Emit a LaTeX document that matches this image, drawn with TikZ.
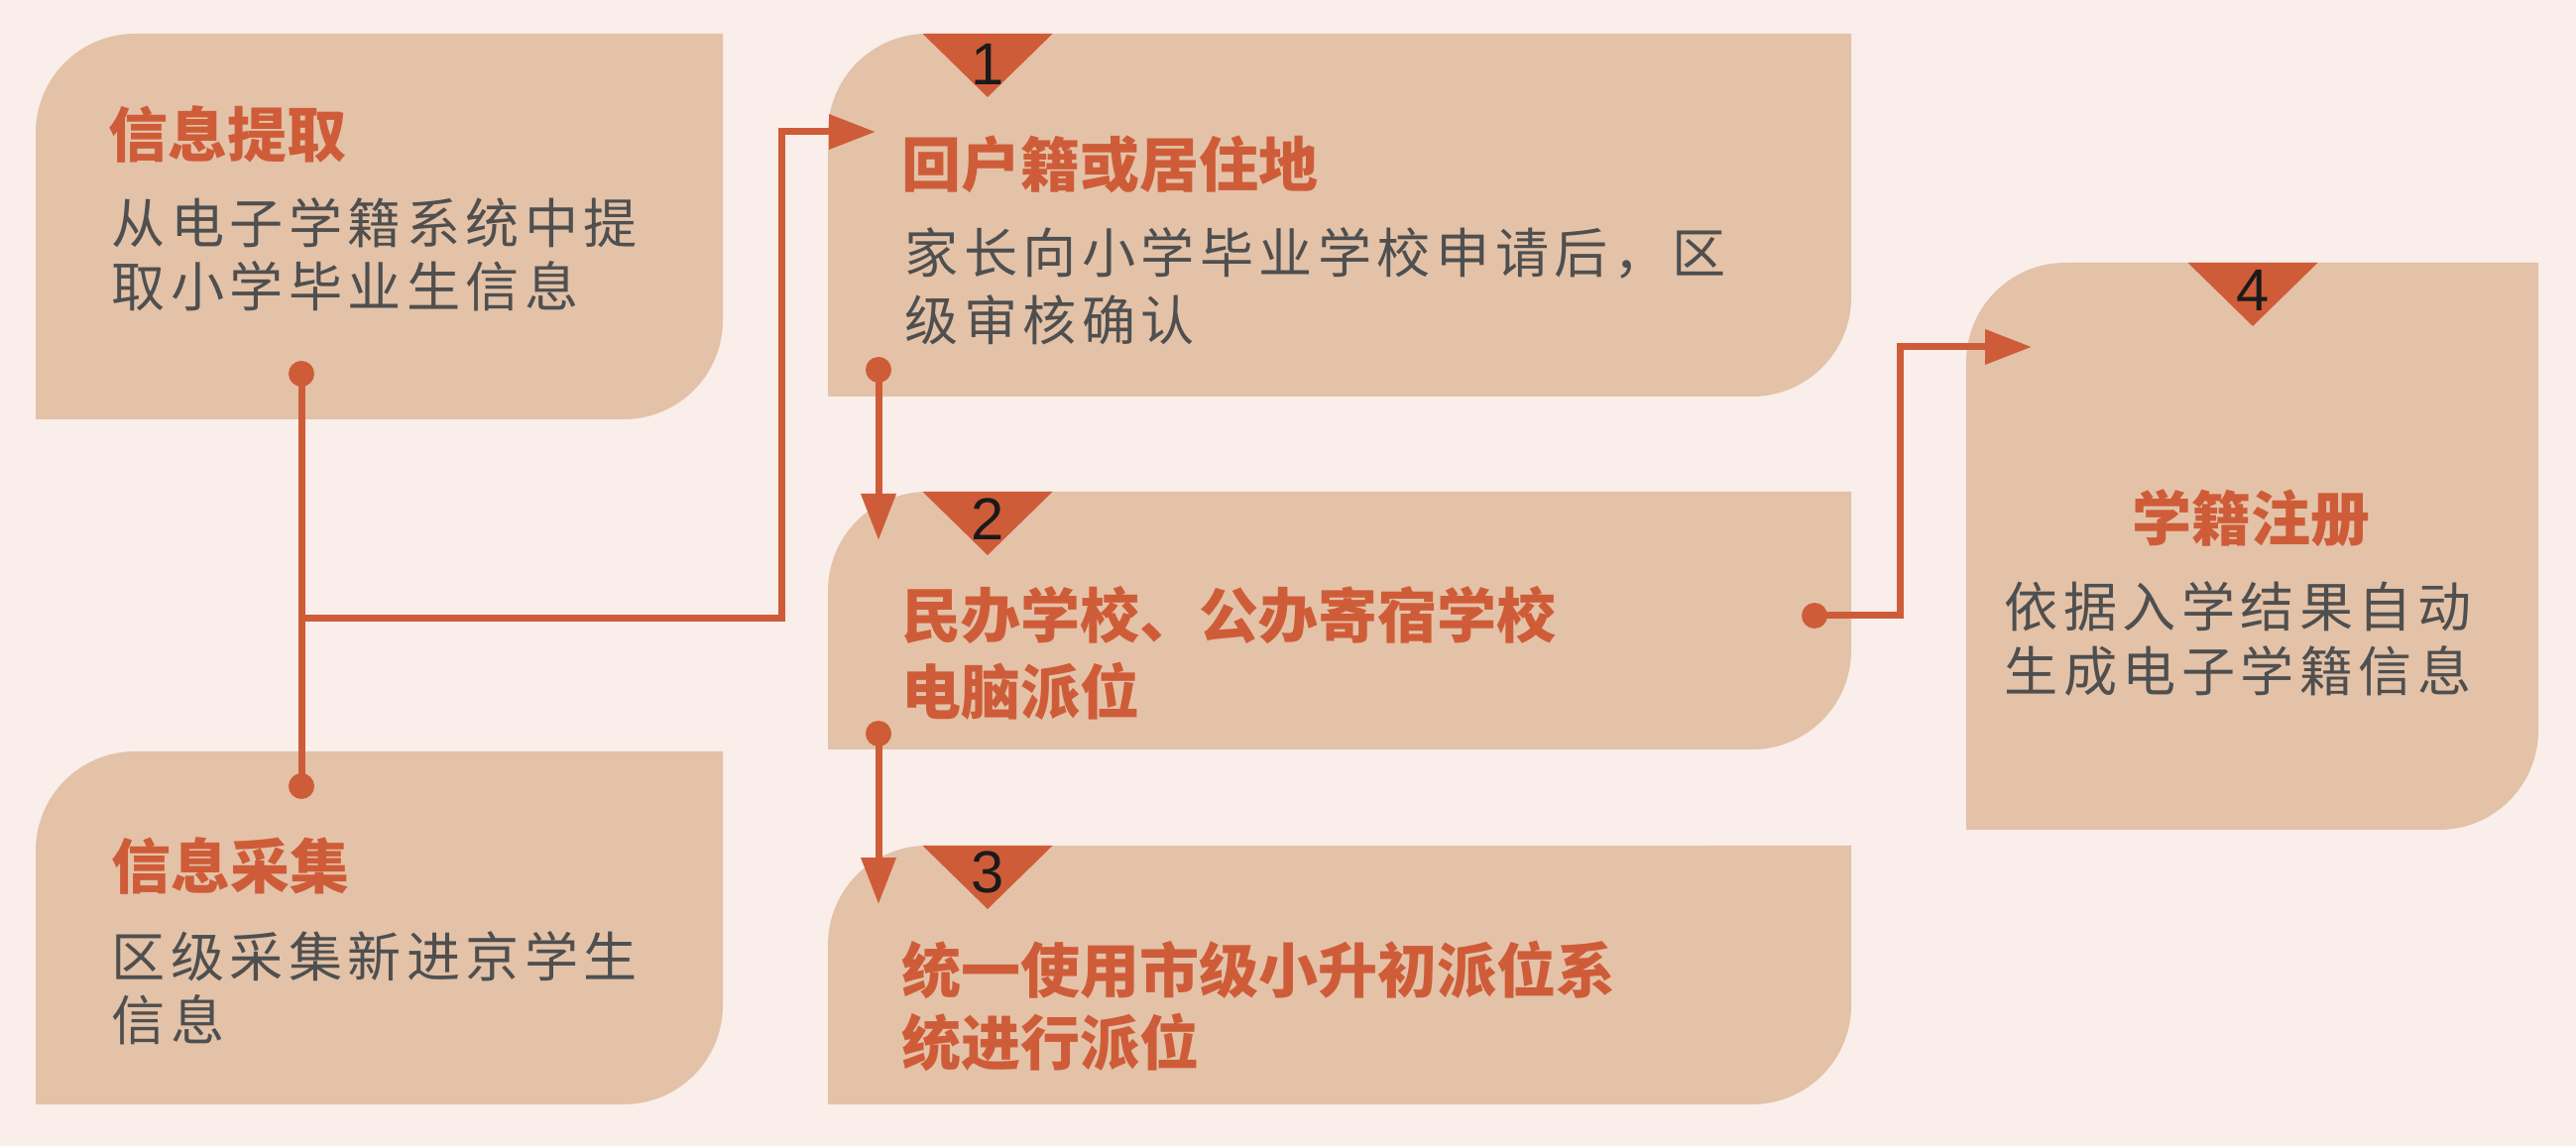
\documentclass[tikz,border=0pt]{standalone}
\usepackage{fontspec}
\setmainfont{Liberation Sans}
\newfontfamily\cjk{Noto Sans CJK SC}
\newfontfamily\cjkbody[LetterSpace=10]{Noto Sans CJK SC}
\usetikzlibrary{arrows.meta}
\definecolor{bgc}{HTML}{F9EEEA}
\definecolor{cardc}{HTML}{E3C2A8}
\definecolor{accent}{HTML}{CF5C38}
\definecolor{bodyc}{HTML}{4F4F4F}
\definecolor{numc}{HTML}{1A1A1A}
% L B R T
\newcommand\cardshape[4]{%
  \fill[cardfill] (#1,#2) -- (#1,#4-100) arc[start angle=180,end angle=90,radius=10mm]
    -- (#3,#4) -- (#3,#2+100) arc[start angle=0,end angle=-90,radius=10mm] -- cycle;}
% cx top
\newcommand\stepmark[2]{%
  \fill[tri] (#1-65.5,#2) -- (#1+65.5,#2) -- (#1,#2-64) -- cycle;}
\begin{document}
\begin{tikzpicture}[x=0.1mm,y=0.1mm,
  cardfill/.style={fill=cardc},
  tri/.style={fill=accent},
  conn/.style={draw=accent,line width=0.7mm},
  arr/.style={conn,-{Triangle[length=4.7mm,width=3.4mm]}},
  dot/.style={circle,fill=accent,inner sep=0,minimum size=2.6mm},
  ttl/.style={anchor=west,inner sep=0,text=accent,font=\cjk\bfseries\fontsize{17.07pt}{20pt}\selectfont},
  body/.style={anchor=west,inner sep=0,text=bodyc,font=\cjkbody\fontsize{15.4pt}{19pt}\selectfont},
  num/.style={inner sep=0,text=numc,font=\fontsize{17pt}{20pt}\selectfont}]

\fill[bgc] (0,0) rectangle (2598,1156);
\useasboundingbox (0,0) rectangle (2598,1156);

% cards
\cardshape{36}{733}{729}{1122}
\cardshape{36}{42}{729}{398}
\cardshape{835}{756}{1867}{1122}
\cardshape{835}{400}{1867}{660}
\cardshape{835}{42}{1867}{303}
\cardshape{1983}{319}{2560}{891}

% step markers
\stepmark{996}{1122}
\stepmark{996}{660}
\stepmark{996}{303}
\stepmark{2272}{891}
\node[num] (n1) at (996,1091) {1};
\node[num] (n2) at (996,632) {2};
\node[num] (n3) at (996,276) {3};
\node[num] (n4) at (2272,863) {4};

% texts
\node[ttl] (tA) at (109,1021) {信息提取};
\node[body] (bA1) at (112,931) {从电子学籍系统中提};
\node[body] (bA2) at (112,867) {取小学毕业生信息};

\node[ttl] (tB) at (112,283) {信息采集};
\node[body] (bB1) at (112,191) {区级采集新进京学生};
\node[body] (bB2) at (112,127) {信息};

\node[ttl] (t1) at (909,990) {回户籍或居住地};
\node[body] (b11) at (912,901) {家长向小学毕业学校申请后，区};
\node[body] (b12) at (912,833) {级审核确认};

\node[ttl] (t2a) at (909,535) {民办学校、公办寄宿学校};
\node[ttl] (t2b) at (909,459) {电脑派位};

\node[ttl] (t3a) at (909,178) {统一使用市级小升初派位系};
\node[ttl] (t3b) at (909,105) {统进行派位};

\node[ttl,anchor=center] (t4) at (2270,633) {学籍注册};
\node[body,anchor=center] (b41) at (2257,544) {依据入学结果自动};
\node[body,anchor=center] (b42) at (2257,479) {生成电子学籍信息};

% dots and connector points
\node[dot] (dA) at (304,779) {};
\node[dot] (dB) at (304,363) {};
\node[dot] (d1) at (886,783) {};
\node[dot] (d2b) at (886,416) {};
\node[dot] (d2r) at (1830,535) {};
\coordinate (jA) at (304,532);
\coordinate (k1) at (788,1023);
\coordinate (p1) at (883,1023);
\coordinate (p2) at (886,611);
\coordinate (p3) at (886,244);
\coordinate (k4) at (1916,806);
\coordinate (p4) at (2049,806);

\draw[conn] (dA.center) -- (dB.center);
\draw[arr] (jA) -| (k1) -- (p1);
\draw[arr] (d1.center) -- (p2);
\draw[arr] (d2b.center) -- (p3);
\draw[arr] (d2r.center) -| (k4) -- (p4);
\end{tikzpicture}
\end{document}
